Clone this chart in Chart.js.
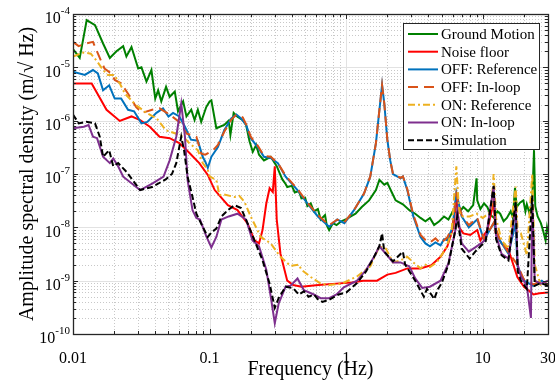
<!DOCTYPE html>
<html>
<head>
<meta charset="utf-8">
<script src="https://cdn.jsdelivr.net/npm/chart.js@4.4.1/dist/chart.umd.min.js"></script>
<style>
html, body { margin: 0; padding: 0; background: #fff; }
</style>
</head>
<body>
<canvas id="chart1" width="555" height="385"></canvas>
<script>
// axis ticks
const xTickVals = [0.01, 0.1, 1, 10, 30];
const xTickLabels = ['0.01', '0.1', '1', '10', '30'];
const yTickVals = [1e-10, 1e-9, 1e-8, 1e-7, 1e-6, 1e-5, 1e-4];
const yTickExps = ['-10', '-9', '-8', '-7', '-6', '-5', '-4'];

const labels = ['Ground Motion', 'Noise floor', 'OFF: Reference', 'OFF: In-loop',
                'ON: Reference', 'ON: In-loop', 'Simulation'];

// Ground Motion
const fGround = [0.01, 0.0112, 0.0126, 0.0145, 0.0166, 0.0186, 0.0208, 0.0233, 0.0246, 0.0268,
  0.030, 0.0317, 0.0345, 0.0375, 0.040, 0.042, 0.0443, 0.048, 0.051, 0.0556,
  0.0587, 0.064, 0.0677, 0.0734, 0.0776, 0.082, 0.0868, 0.0945, 0.100, 0.103,
  0.112, 0.128, 0.138, 0.142, 0.150, 0.160, 0.175, 0.185, 0.196, 0.207,
  0.219, 0.230, 0.250, 0.280, 0.310, 0.340, 0.36, 0.37, 0.40, 0.42,
  0.45, 0.47, 0.50, 0.52, 0.55, 0.58, 0.62, 0.65, 0.70, 0.72,
  0.75, 0.80, 0.85, 0.92, 0.99, 1.08, 1.17, 1.3, 1.47, 1.65,
  1.75, 1.9, 2.0, 2.15, 2.3, 2.6, 2.9, 3.2, 3.5, 3.8,
  4.1, 4.4, 4.8, 5.2, 5.6, 6.1, 6.6, 7.2, 7.8, 8.5,
  9.0, 9.1, 9.6, 10.2, 10.8, 11.4, 12.1, 12.8, 13.4, 14.2,
  15, 16, 16.6, 17.2, 17.7, 18.7, 19.8, 20.5, 21, 22,
  23, 23.7, 24.2, 25.2, 26.6, 27.5, 28.8, 29.5, 30];
const aGround = [2.2e-5, 1.5e-5, 7.7e-5, 6.2e-5, 2.8e-5, 1.5e-5, 2.0e-5, 2.5e-5, 1.6e-5, 2.4e-5,
  9.5e-6, 1.0e-5, 5.4e-6, 8.9e-6, 2.6e-6, 3.7e-6, 2.3e-6, 4.3e-6, 2.8e-6, 3.5e-6,
  1.5e-6, 2.3e-6, 1.2e-6, 1.6e-6, 1.03e-6, 1.6e-6, 9.5e-7, 1.8e-6, 2.3e-6, 2.4e-6,
  7.2e-7, 8.3e-7, 1.0e-6, 5.4e-7, 1.4e-6, 1.18e-6, 1.02e-6, 8.3e-7, 4.1e-7, 2.6e-7,
  3.5e-7, 2.3e-7, 1.8e-7, 2.1e-7, 1.4e-7, 8e-8, 6.5e-8, 5.7e-8, 6.0e-8, 4.5e-8,
  4.8e-8, 3.5e-8, 3.6e-8, 2.5e-8, 2.8e-8, 2.0e-8, 2.2e-8, 1.4e-8, 1.7e-8, 1.1e-8,
  8.9e-9, 1.2e-8, 1.1e-8, 1.3e-8, 1.4e-8, 1.6e-8, 1.8e-8, 2.4e-8, 3.2e-8, 5e-8,
  7.8e-8, 6.3e-8, 6.8e-8, 4.6e-8, 3.2e-8, 2.7e-8, 2.1e-8, 1.8e-8, 1.5e-8, 1.3e-8,
  1.5e-8, 1.1e-8, 1.3e-8, 1.6e-8, 1.4e-8, 2.1e-8, 1.8e-8, 2.4e-8, 2.0e-8, 2.6e-8,
  8.3e-8, 3.2e-8, 2.2e-8, 2.8e-8, 2.4e-8, 1.7e-8, 1.5e-8, 2.0e-8, 1.8e-8, 1.3e-8,
  1.5e-8, 2.0e-8, 1.5e-8, 5.5e-8, 2.4e-8, 2.9e-8, 3.2e-8, 2.0e-8, 2.7e-8, 1.8e-8,
  3e-8, 2.8e-7, 2.5e-8, 1.6e-8, 1.2e-8, 9e-9, 5.7e-9, 1.0e-8, 8e-9];

// Noise floor
const fNoise = [0.01, 0.0137, 0.0176, 0.022, 0.0268, 0.031, 0.0365, 0.043, 0.051, 0.060,
  0.071, 0.084, 0.097, 0.109, 0.136, 0.160, 0.190, 0.213, 0.230, 0.244,
  0.260, 0.275, 0.290, 0.300, 0.310, 0.330, 0.370, 0.410, 0.47, 0.6,
  0.84, 1.1, 1.33, 1.68, 2.0, 2.3, 2.8, 3.5, 4.2, 4.9,
  5.5, 6.1, 6.4, 6.7, 7.2, 8.1, 9.1, 9.6, 10.8, 12.0,
  12.4, 13.7, 15.4, 17.9, 20, 23.5, 26, 30];
const aNoise = [5e-6, 5e-6, 1.6e-6, 9.9e-7, 1.2e-6, 1.02e-6, 7.7e-7, 5e-7, 4.7e-7, 3.8e-7,
  2.5e-7, 1.6e-7, 9.6e-8, 5e-8, 2.6e-8, 2.1e-8, 1.17e-8, 5.7e-9, 5e-9, 8.9e-9,
  2.8e-8, 5.4e-8, 4.6e-8, 1.4e-7, 1.4e-8, 3.2e-9, 1.0e-9, 8.3e-10, 7.7e-10, 8.2e-10,
  8.8e-10, 9.2e-10, 1.0e-9, 1.0e-9, 1.3e-9, 1.4e-9, 1.7e-9, 1.7e-9, 1.95e-9, 2.8e-9,
  4.4e-9, 1.03e-8, 4e-8, 1.0e-8, 7.7e-9, 7.2e-9, 8.9e-9, 5.7e-9, 8.9e-9, 3e-8,
  8e-9, 5e-9, 3.8e-9, 1.17e-9, 7.7e-10, 5.5e-10, 5.8e-10, 6e-10];

// OFF: Reference
const fOffRef = [0.01, 0.0122, 0.014, 0.0152, 0.0166, 0.0184, 0.0202, 0.0225, 0.0253, 0.028,
  0.0317, 0.035, 0.0408, 0.0456, 0.050, 0.054, 0.060, 0.066, 0.073, 0.082,
  0.089, 0.093, 0.097, 0.103, 0.115, 0.128, 0.144, 0.157, 0.170, 0.185,
  0.200, 0.225, 0.250, 0.280, 0.316, 0.36, 0.44, 0.52, 0.62, 0.75,
  0.86, 0.97, 1.14, 1.35, 1.5, 1.65, 1.75, 1.83, 1.9, 2.0,
  2.1, 2.2, 2.5, 2.6, 2.8, 3.1, 3.5, 3.8, 4.1, 4.5,
  4.9, 5.2, 5.5, 6.0, 6.4, 7.0, 7.9, 8.8, 9.1, 10.2,
  12, 13.3, 15.4, 17.4, 17.9, 20, 23.5, 27, 30];
const aOffRef = [8.3e-6, 7.2e-6, 8.9e-6, 7.7e-6, 3.7e-6, 4.6e-6, 2.6e-6, 2.6e-6, 1.6e-6, 1.5e-6,
  8.9e-7, 9.5e-7, 1.4e-6, 1.7e-6, 1.2e-6, 1.4e-6, 1.2e-6, 7.7e-7, 4.4e-7, 4.2e-7,
  2.1e-7, 1.7e-7, 1.3e-7, 2.1e-7, 3.2e-7, 6.6e-7, 1.1e-6, 1.3e-6, 1.1e-6, 8.3e-7,
  4.7e-7, 3.2e-7, 2.1e-7, 2.0e-7, 1.6e-7, 8.9e-8, 5e-8, 2.8e-8, 1.6e-8, 1.03e-8,
  1.4e-8, 1.2e-8, 2.1e-8, 4.3e-8, 8.9e-8, 3.8e-7, 1.6e-6, 4.7e-6, 2.1e-6, 4.4e-7,
  1.8e-7, 1.0e-7, 8.3e-8, 9e-8, 5e-8, 1.6e-8, 6.6e-9, 5e-9, 4.4e-9, 5.2e-9,
  4.6e-9, 6e-9, 5.7e-9, 1e-8, 4.5e-8, 1.6e-8, 1e-8, 1.3e-8, 1.4e-8, 5.7e-9,
  1.2e-8, 5.7e-9, 3.2e-9, 1.2e-8, 1.9e-9, 1e-9, 8e-10, 1e-9, 8e-10];

// OFF: In-loop
const fOffIn = [0.01, 0.011, 0.0125, 0.014, 0.0157, 0.017, 0.019, 0.0202, 0.0225, 0.0253,
  0.029, 0.032, 0.038, 0.043, 0.051, 0.060, 0.068, 0.080, 0.087, 0.093,
  0.106, 0.115, 0.128, 0.144, 0.157, 0.175, 0.185, 0.200, 0.225, 0.250,
  0.280, 0.316, 0.36, 0.44, 0.52, 0.62, 0.75, 0.86, 0.97, 1.14,
  1.35, 1.5, 1.65, 1.75, 1.83, 1.9, 2.0, 2.1, 2.2, 2.5,
  2.6, 2.8, 3.1, 3.5, 3.8, 4.1, 4.5, 4.9, 5.5, 6.0,
  6.4, 7.0, 7.9, 8.8, 9.1, 10.2, 12, 13.3, 15.4, 17.9,
  20, 23.5, 27, 30];
const aOffIn = [3e-5, 2.5e-5, 2.8e-5, 3e-5, 1.5e-5, 9.5e-6, 7.7e-6, 5.8e-6, 5e-6, 3.2e-6,
  1.8e-6, 1.4e-6, 1.6e-6, 1.7e-6, 1.3e-6, 9.5e-7, 5.7e-7, 5e-7, 2.4e-7, 2.3e-7,
  2.8e-7, 3.5e-7, 6.2e-7, 1.05e-6, 1.3e-6, 1.15e-6, 8.5e-7, 5e-7, 3.4e-7, 2.2e-7,
  2.1e-7, 1.6e-7, 9.3e-8, 5.2e-8, 2.9e-8, 1.7e-8, 1.1e-8, 1.4e-8, 1.25e-8, 2.1e-8,
  4.3e-8, 9e-8, 3.8e-7, 1.6e-6, 4.6e-6, 2.1e-6, 4.4e-7, 1.8e-7, 1.0e-7, 8.5e-8,
  9e-8, 5.2e-8, 1.7e-8, 7.2e-9, 5.8e-9, 5.2e-9, 6.2e-9, 5e-9, 6.5e-9, 1.05e-8,
  4.2e-8, 1.7e-8, 1.1e-8, 1.4e-8, 1.5e-8, 6e-9, 1.2e-8, 6e-9, 3.4e-9, 2e-9,
  1.05e-9, 8.5e-10, 1e-9, 8.5e-10];

// ON: Reference
const fOnRef = [0.01, 0.012, 0.0135, 0.015, 0.0166, 0.018, 0.020, 0.022, 0.024, 0.029,
  0.0345, 0.041, 0.048, 0.057, 0.064, 0.071, 0.082, 0.089, 0.097, 0.100,
  0.112, 0.118, 0.125, 0.152, 0.165, 0.180, 0.200, 0.237, 0.280, 0.330,
  0.390, 0.45, 0.47, 0.55, 0.65, 0.75, 0.93, 1.2, 1.5, 1.75,
  1.95, 2.2, 2.5, 2.8, 3.1, 3.5, 3.8, 4.1, 4.6, 5.3,
  5.9, 6.4, 6.7, 7.0, 8.0, 9.0, 10, 11.5, 12.0, 12.5,
  13.7, 15.4, 17.4, 18, 19, 21, 23, 24, 26.6, 30];
const aOnRef = [1.6e-5, 1.9e-5, 1.8e-5, 1.3e-5, 8.9e-6, 7.2e-6, 7.2e-6, 5e-6, 3.2e-6, 1.95e-6,
  1.4e-6, 1.1e-6, 6.6e-7, 5.7e-7, 5e-7, 3.8e-7, 2.8e-7, 1.6e-7, 1.2e-7, 9e-8,
  7.7e-8, 4e-8, 4.2e-8, 3.7e-8, 3.9e-8, 3e-8, 1.6e-8, 6.6e-9, 5e-9, 2.8e-9,
  1.9e-9, 2.0e-9, 1.6e-9, 1.17e-9, 8.8e-10, 8.3e-10, 8.8e-10, 1.2e-9, 1.85e-9, 4.4e-9,
  4e-9, 2.2e-9, 2.4e-9, 2.8e-9, 2.2e-9, 1.7e-9, 2.0e-9, 1.8e-9, 2.2e-9, 3.8e-9,
  7.7e-9, 1.4e-7, 2e-8, 1.6e-8, 1.6e-8, 1.8e-8, 1.5e-8, 2e-8, 1e-7, 1.5e-8,
  5.7e-9, 4e-9, 5.8e-8, 8e-9, 7.7e-9, 3e-9, 1e-7, 2e-9, 8e-10, 1e-9];

// ON: In-loop
const fOnIn = [0.01, 0.012, 0.013, 0.014, 0.015, 0.0166, 0.0186, 0.0197, 0.0214, 0.0233,
  0.031, 0.038, 0.046, 0.051, 0.057, 0.062, 0.066, 0.069, 0.075, 0.080,
  0.085, 0.095, 0.103, 0.112, 0.122, 0.138, 0.160, 0.185, 0.206, 0.230,
  0.260, 0.280, 0.300, 0.320, 0.360, 0.390, 0.440, 0.490, 0.580, 0.650,
  0.750, 0.850, 0.96, 1.2, 1.4, 1.6, 1.75, 1.95, 2.2, 2.5,
  2.9, 3.2, 3.6, 4.1, 4.9, 5.6, 6.3, 6.5, 7.0, 7.9,
  8.8, 9.7, 10.5, 12.0, 12.5, 13.7, 15.4, 17.4, 18, 19,
  21, 22.5, 23, 24, 26.6, 30];
const aOnIn = [7.2e-7, 7.7e-7, 8.3e-7, 5e-7, 4.7e-7, 2.1e-7, 1.6e-7, 1.95e-7, 1.4e-7, 8.9e-8,
  5e-8, 6.6e-8, 8.9e-8, 1.8e-7, 5e-7, 2.1e-6, 5e-7, 7.7e-8, 2.1e-8, 1.5e-8,
  1.4e-8, 6.6e-9, 4.2e-9, 6.6e-9, 1.4e-8, 1.6e-8, 1.8e-8, 1.4e-8, 5.7e-9, 4.4e-9,
  1.6e-9, 5.1e-10, 1.6e-10, 3.7e-10, 7.7e-10, 8e-10, 1.1e-9, 6.6e-10, 5.5e-10, 4.7e-10,
  4.7e-10, 5.5e-10, 7.5e-10, 1e-9, 1.6e-9, 2.8e-9, 4.4e-9, 3.2e-9, 2.2e-9, 2.2e-9,
  1.85e-9, 1.1e-9, 7.3e-10, 7.7e-10, 1e-9, 2.1e-9, 8.9e-9, 2.1e-8, 5e-9, 3.5e-9,
  4.2e-9, 5e-9, 6e-9, 5.8e-8, 7e-9, 3.2e-9, 2.6e-9, 2.4e-8, 2e-9, 1.2e-9,
  8e-10, 2e-10, 3e-8, 1e-9, 8.8e-10, 1e-9];

// Simulation
const fSim = [0.01, 0.011, 0.0125, 0.0145, 0.0157, 0.0166, 0.0184, 0.0197, 0.0214, 0.0246,
  0.031, 0.038, 0.048, 0.053, 0.057, 0.062, 0.065, 0.069, 0.075, 0.080,
  0.089, 0.097, 0.103, 0.112, 0.122, 0.136, 0.152, 0.170, 0.190, 0.213,
  0.244, 0.275, 0.300, 0.320, 0.360, 0.410, 0.450, 0.490, 0.530, 0.580,
  0.620, 0.670, 0.750, 0.880, 1.0, 1.2, 1.4, 1.6, 1.75, 1.83,
  1.9, 2.2, 2.6, 2.7, 3.2, 3.7, 3.9, 4.2, 4.4, 4.7,
  5.0, 5.6, 6.3, 6.5, 7.0, 8.0, 8.8, 9.7, 10.5, 12.0,
  12.5, 13.7, 15.4, 17.4, 18, 19, 21, 23, 24, 26.6, 30];
const aSim = [1.3e-6, 8.9e-7, 9.5e-7, 8.9e-7, 5e-7, 2.1e-7, 2.8e-7, 1.4e-7, 1.6e-7, 1.1e-7,
  5e-8, 5.7e-8, 8e-8, 1e-7, 1.6e-7, 5e-7, 2.8e-7, 8.9e-8, 3.7e-8, 1.8e-8,
  1.03e-8, 6.6e-9, 8e-9, 9.5e-9, 1.6e-8, 2.1e-8, 2.6e-8, 2.3e-8, 1.17e-8, 5.7e-9,
  2.4e-9, 8.8e-10, 3.1e-10, 4.7e-10, 7.7e-10, 7.2e-10, 5.5e-10, 6.3e-10, 5e-10, 5.5e-10,
  4.5e-10, 4e-10, 4.4e-10, 5.5e-10, 6e-10, 9e-10, 1.5e-9, 2.8e-9, 4.5e-9, 7.7e-9,
  3.5e-9, 2.3e-9, 3.5e-9, 2e-9, 1e-9, 5e-10, 7e-10, 5.5e-10, 4.5e-10, 7e-10,
  9e-10, 2e-9, 9e-9, 1.6e-8, 4e-9, 2.6e-9, 3.5e-9, 4.5e-9, 5.5e-9, 6e-8,
  6e-9, 3e-9, 2.4e-9, 3e-8, 1.5e-9, 1e-9, 7e-10, 4e-8, 8e-10, 9e-10, 8e-10];

const serif = '"Liberation Serif", "Times New Roman", serif';

function pts(f, a) {
  return f.map((v, i) => ({x: v, y: a[i]}));
}

function series(i, f, a, color, dash, order) {
  return {
    label: labels[i],
    data: pts(f, a),
    borderColor: color,
    backgroundColor: color,
    borderWidth: 2,
    borderDash: dash,
    pointRadius: 0,
    tension: 0,
    order: order
  };
}

// minor positions 2..9 within each decade, for grid and ticks
function minors(lo, hi) {
  const out = [];
  for (let d = lo; d < hi * 0.999; d *= 10) {
    for (let k = 2; k <= 9; k++) {
      if (d * k <= hi * 1.0001) out.push(d * k);
    }
  }
  return out;
}
const xMajor = [0.01, 0.1, 1, 10];
const xMinor = minors(0.01, 30);
const yMajor = yTickVals;
const yMinor = minors(1e-10, 1e-4);

const framePlugin = {
  id: 'frame',
  beforeDatasetsDraw(chart) {
    const {ctx, chartArea: a, scales: {x, y}} = chart;
    ctx.save();
    ctx.lineWidth = 1;
    ctx.strokeStyle = '#c8c8c8';
    ctx.setLineDash([1, 2]);
    ctx.beginPath();
    xMinor.forEach(v => {
      const p = Math.round(x.getPixelForValue(v)) + 0.5;
      ctx.moveTo(p, a.top); ctx.lineTo(p, a.bottom);
    });
    yMinor.forEach(v => {
      const p = Math.round(y.getPixelForValue(v)) + 0.5;
      ctx.moveTo(a.left, p); ctx.lineTo(a.right, p);
    });
    ctx.stroke();
    ctx.setLineDash([]);
    ctx.strokeStyle = '#e2e2e2';
    ctx.beginPath();
    xMajor.forEach(v => {
      const p = Math.round(x.getPixelForValue(v)) + 0.5;
      ctx.moveTo(p, a.top); ctx.lineTo(p, a.bottom);
    });
    yMajor.forEach(v => {
      const p = Math.round(y.getPixelForValue(v)) + 0.5;
      ctx.moveTo(a.left, p); ctx.lineTo(a.right, p);
    });
    ctx.stroke();
    ctx.restore();
  },
  afterDatasetsDraw(chart) {
    const {ctx, chartArea: a, scales: {x, y}} = chart;
    ctx.save();
    ctx.strokeStyle = '#262626';
    ctx.lineWidth = 1;
    ctx.beginPath();
    const tick = (vals, len) => {
      vals.forEach(v => {
        const p = Math.round(x.getPixelForValue(v)) + 0.5;
        ctx.moveTo(p, a.bottom); ctx.lineTo(p, a.bottom - len);
        ctx.moveTo(p, a.top); ctx.lineTo(p, a.top + len);
      });
    };
    const ytick = (vals, len) => {
      vals.forEach(v => {
        const p = Math.round(y.getPixelForValue(v)) + 0.5;
        ctx.moveTo(a.left, p); ctx.lineTo(a.left + len, p);
        ctx.moveTo(a.right, p); ctx.lineTo(a.right - len, p);
      });
    };
    tick(xMajor, 5); tick(xMinor, 3);
    ytick(yMajor, 5); ytick(yMinor, 3);
    ctx.stroke();
    ctx.lineWidth = 1.3;
    ctx.strokeRect(Math.round(a.left) + 0.5, Math.round(a.top) + 0.5,
                   Math.round(a.right - a.left), Math.round(a.bottom - a.top));

    // y tick labels with exponents
    ctx.fillStyle = '#000';
    ctx.textAlign = 'right';
    ctx.textBaseline = 'middle';
    yTickVals.forEach((v, i) => {
      const p = y.getPixelForValue(v);
      ctx.font = '11px ' + serif;
      const ew = ctx.measureText(yTickExps[i]).width;
      ctx.fillText(yTickExps[i], 70, p - 3);
      ctx.font = '16px ' + serif;
      ctx.fillText('10', 70 - ew, p + 5);
    });
    ctx.restore();
  },
  afterDraw(chart) {
    // legend box inside the plot
    const ctx = chart.ctx;
    const ds = chart.data.datasets;
    const bx = 403, by = 23, bw = 136, bh = 126;
    ctx.save();
    ctx.fillStyle = '#fff';
    ctx.fillRect(bx, by, bw, bh);
    ctx.strokeStyle = '#262626';
    ctx.lineWidth = 1;
    ctx.strokeRect(bx + 0.5, by + 0.5, bw, bh);
    ctx.font = '15px ' + serif;
    ctx.textAlign = 'left';
    ctx.textBaseline = 'middle';
    ds.forEach((d, i) => {
      const ly = by + 11 + i * 17.7;
      ctx.strokeStyle = d.borderColor;
      ctx.lineWidth = 2;
      ctx.setLineDash(d.borderDash || []);
      ctx.beginPath();
      ctx.moveTo(bx + 5, ly); ctx.lineTo(bx + 35, ly);
      ctx.stroke();
      ctx.setLineDash([]);
      ctx.fillStyle = '#000';
      ctx.fillText(d.label, bx + 38, ly + 1);
    });
    ctx.restore();
  }
};

new Chart(document.getElementById('chart1'), {
  type: 'line',
  data: {
    datasets: [
      series(0, fGround, aGround, '#008000', [], 7),
      series(1, fNoise, aNoise, '#ff0000', [], 6),
      series(2, fOffRef, aOffRef, '#0072bd', [], 5),
      series(3, fOffIn, aOffIn, '#d95319', [10, 6], 4),
      series(4, fOnRef, aOnRef, '#edb120', [7, 3, 2, 3], 3),
      series(5, fOnIn, aOnIn, '#7e2f8e', [], 2),
      series(6, fSim, aSim, '#000000', [6, 3], 1)
    ]
  },
  options: {
    responsive: false,
    animation: false,
    devicePixelRatio: 1,
    layout: {padding: {top: 14, right: 7, left: 0, bottom: 0}},
    scales: {
      x: {
        type: 'logarithmic',
        min: 0.01,
        max: 30,
        grid: {display: false},
        border: {display: false},
        afterBuildTicks: s => { s.ticks = xTickVals.map(v => ({value: v})); },
        afterFit: s => { s.height = 51; s.paddingLeft = 0; s.paddingRight = 0; },
        ticks: {
          autoSkip: false,
          maxRotation: 0,
          padding: 7,
          color: '#000',
          font: {family: serif, size: 16},
          callback: (v, i) => xTickLabels[i]
        },
        title: {
          display: true,
          text: 'Frequency (Hz)',
          color: '#000',
          font: {family: serif, size: 20},
          padding: {top: 0, bottom: 3}
        }
      },
      y: {
        type: 'logarithmic',
        min: 1e-10,
        max: 1e-4,
        grid: {display: false},
        border: {display: false},
        ticks: {display: false},
        afterFit: s => { s.width = 73; },
        title: {
          display: true,
          text: 'Amplitude spectral density (m/\u221A Hz)',
          color: '#000',
          font: {family: serif, size: 20},
          padding: {top: 16, bottom: 0}
        }
      }
    },
    plugins: {
      legend: {display: false},
      tooltip: {enabled: false}
    }
  },
  plugins: [framePlugin]
});
</script>
</body>
</html>
